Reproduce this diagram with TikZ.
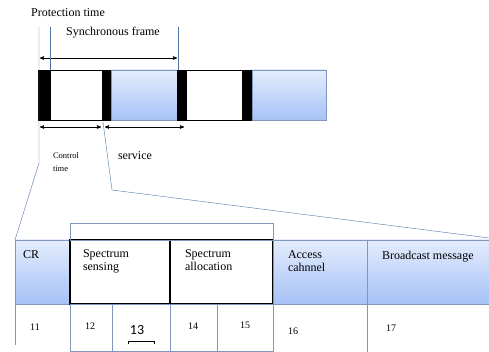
\documentclass[tikz,border=0pt]{standalone}
\usepackage{fontspec}
\setmainfont{Liberation Serif}
\newfontfamily\numfont{Carlito}
\usepackage{tikz}
\usetikzlibrary{arrows,positioning}
\definecolor{cellhi}{RGB}{228,236,253}
\definecolor{celllo}{RGB}{166,194,246}
\definecolor{celledge}{RGB}{128,150,186}
\definecolor{guide}{RGB}{80,115,170}

\begin{document}
\begin{tikzpicture}[x=1pt,y=-1pt,>=stealth',semithick,node distance=0pt]
  \tikzstyle{every node}=[inner sep=0pt,outer sep=0pt,font=\fontsize{12}{13}\selectfont]
  \tikzstyle{slotbox}=[rectangle,draw=black,fill=white,anchor=north west,minimum height=50pt]
  \tikzstyle{guardbar}=[rectangle,draw=black,fill=black,anchor=north west,minimum height=50pt]
  \tikzstyle{databox}=[rectangle,draw=celledge,top color=cellhi,bottom color=celllo,anchor=north west]
  \tikzstyle{tablecell}=[rectangle,draw=celledge,thin,anchor=north west]
  \tikzstyle{phasebox}=[rectangle,draw=black,line width=1.1pt,fill=white,anchor=north west,minimum height=64pt]
  \tikzstyle{label}=[anchor=north west,align=left]
  \tikzstyle{guideline}=[draw=guide,thin]

  \useasboundingbox (0,0) rectangle (489,352);
  \clip (0,0) rectangle (489,352);

  % frame
  \node[guardbar,minimum width=12pt] (g1) at (38,70) {};
  \node[slotbox,minimum width=52pt] (s1) [right=of g1] {};
  \node[guardbar,minimum width=9pt] (g2) [right=of s1] {};
  \node[databox,minimum width=66pt,minimum height=50pt] (b1) [right=of g2] {};
  \node[guardbar,minimum width=9pt] (g3) [right=of b1] {};
  \node[slotbox,minimum width=56pt] (s2) [right=of g3] {};
  \node[guardbar,minimum width=10pt] (g4) [right=of s2] {};
  \node[databox,minimum width=74pt,minimum height=50pt] (b2) [right=of g4] {};

  \node (prot) at (68,13) {Protection time};
  \node (sync) at (113,33) {Synchronous frame};
  \node[label,font=\fontsize{8.5}{13}\selectfont] (ctrl) at (53,153) {Control\\time};
  \node[label] (serv) at (118,152) {service};

  \coordinate (ptop) at (39,27);
  \coordinate (pbend) at (39,163);
  \coordinate (ftop) at (50,27);
  \coordinate (etop) at (178,27);
  \coordinate (gbend) at (112,190);
  \coordinate (gend) at (489,238);

  \draw[<->] (40,58) -- (177,58);
  \draw[<->] (40,127) -- (101,127);
  \draw[<->] (105,127) -- (184,127);

  % table
  \node[databox,minimum width=55pt,minimum height=64pt] (cr) at (15,240) {};
  \node[phasebox,minimum width=100pt] (sense) [right=of cr] {};
  \node[phasebox,minimum width=103pt] (alloc) [right=of sense] {};
  \node[databox,minimum width=94pt,minimum height=64pt] (access) [right=of alloc] {};
  \node[databox,minimum width=130pt,minimum height=64pt] (bcast) [right=of access] {};
  \node[tablecell,anchor=south west,minimum width=203pt,minimum height=17pt] (phase) at (sense.north west) {};

  \node[tablecell,minimum width=42pt,minimum height=47pt] (c12) at (sense.south west) {};
  \node[tablecell,minimum width=58pt,minimum height=47pt] (c13) [right=of c12] {};
  \node[tablecell,minimum width=47pt,minimum height=47pt] (c14) at (alloc.south west) {};
  \node[tablecell,minimum width=56pt,minimum height=47pt] (c15) [right=of c14] {};
  \draw[celledge,thin] (cr.south west) -- +(0,41);
  \draw[celledge,thin] (access.south west) -- +(0,50);
  \draw[celledge,thin] (bcast.south west) -- +(0,50);

  \node[label] (crl) at (23,251) {CR};
  \node[label] (sensel) at (83,250) {Spectrum\\sensing};
  \node[label] (allocl) at (185,250) {Spectrum\\allocation};
  \node[label] (accessl) at (288,251) {Access\\cahnnel};
  \node[label] (bcastl) at (382,251) {Broadcast message};

  \node[font=\fontsize{10}{12}\selectfont] (n11) at (35,327) {11};
  \node[font=\fontsize{10}{12}\selectfont] (n12) at (90,326) {12};
  \node[font=\numfont\fontsize{14}{16}\selectfont] (n13) at (137,330) {13};
  \node[font=\fontsize{10}{12}\selectfont] (n14) at (193,326) {14};
  \node[font=\fontsize{10}{12}\selectfont] (n15) at (245,325) {15};
  \node[font=\fontsize{10}{12}\selectfont] (n16) at (293,331) {16};
  \node[font=\fontsize{10}{12}\selectfont] (n17) at (391,328) {17};
  \draw[thin] (128,344) -- (128,341) -- (154,341) -- (154,344);

  % guides
  \draw[guideline] (ptop) -- (pbend) -- (cr.north west);
  \draw[guideline] (ftop) -- (s1.north west);
  \draw[guideline] (etop) -- (g3.north west -| etop);
  \draw[guideline] (g2.south west) ++(1,2) -- (gbend) -- (gend);
\end{tikzpicture}
\end{document}
